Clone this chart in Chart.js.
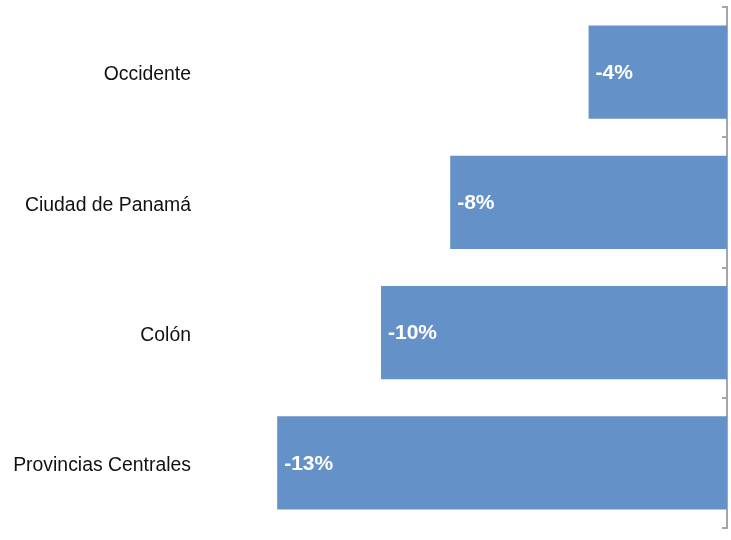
<!DOCTYPE html>
<html>
<head>
<meta charset="utf-8">
<script src="https://cdn.jsdelivr.net/npm/chart.js@4/dist/chart.umd.min.js"></script>
<style>
  html, body { margin: 0; padding: 0; background: #ffffff; }
  #wrap { width: 731px; height: 540px; }
</style>
</head>
<body>
<div id="wrap"><canvas id="c" width="731" height="540"></canvas></div>
<script>
const categories = ['Occidente', 'Ciudad de Panamá', 'Colón', 'Provincias Centrales'];
const values = [-4, -8, -10, -13];
const valueLabels = ['-4%', '-8%', '-10%', '-13%'];
const axisMin = -15;
const axisMax = 0;

const barLabelPlugin = {
  id: 'barLabels',
  afterDatasetsDraw(chart) {
    const ctx = chart.ctx;
    const meta = chart.getDatasetMeta(0);
    ctx.save();
    ctx.font = 'bold 21px "Liberation Sans", Arial, sans-serif';
    ctx.fillStyle = '#ffffff';
    ctx.textAlign = 'left';
    ctx.textBaseline = 'middle';
    meta.data.forEach((bar, i) => {
      ctx.fillText(valueLabels[i], bar.x + 7, bar.y + 1);
    });
    ctx.restore();
  }
};

function noPad(s) {
  s.paddingTop = 0;
  s.paddingBottom = 0;
}

new Chart(document.getElementById('c'), {
  type: 'bar',
  data: {
    labels: categories,
    datasets: [{
      data: values,
      backgroundColor: '#6591C9',
      borderWidth: 0,
      barPercentage: 0.715,
      categoryPercentage: 1.0,
      yAxisID: 'y'
    }]
  },
  options: {
    indexAxis: 'y',
    responsive: false,
    animation: false,
    layout: { padding: { top: 7, bottom: 12, left: 0, right: 4 } },
    plugins: { legend: { display: false }, tooltip: { enabled: false } },
    scales: {
      x: { display: false, min: axisMin, max: axisMax },
      y: {
        type: 'category',
        position: 'right',
        offset: true,
        ticks: { display: false },
        border: { display: true, color: '#A6A6A6', width: 2 },
        grid: {
          display: true,
          offset: true,
          drawOnChartArea: false,
          drawTicks: true,
          tickLength: -5,
          color: '#A6A6A6',
          lineWidth: 2
        },
        afterFit(s) { s.width = 0; noPad(s); }
      },
      y2: {
        type: 'category',
        position: 'left',
        offset: true,
        grid: { display: false, drawTicks: false },
        border: { display: false },
        ticks: {
          padding: 17,
          labelOffset: 3,
          color: '#111111',
          font: { family: '"Liberation Sans", Arial, sans-serif', size: 19.4 }
        },
        afterFit(s) { s.width = 208; noPad(s); }
      }
    }
  },
  plugins: [barLabelPlugin]
});
</script>
</body>
</html>
